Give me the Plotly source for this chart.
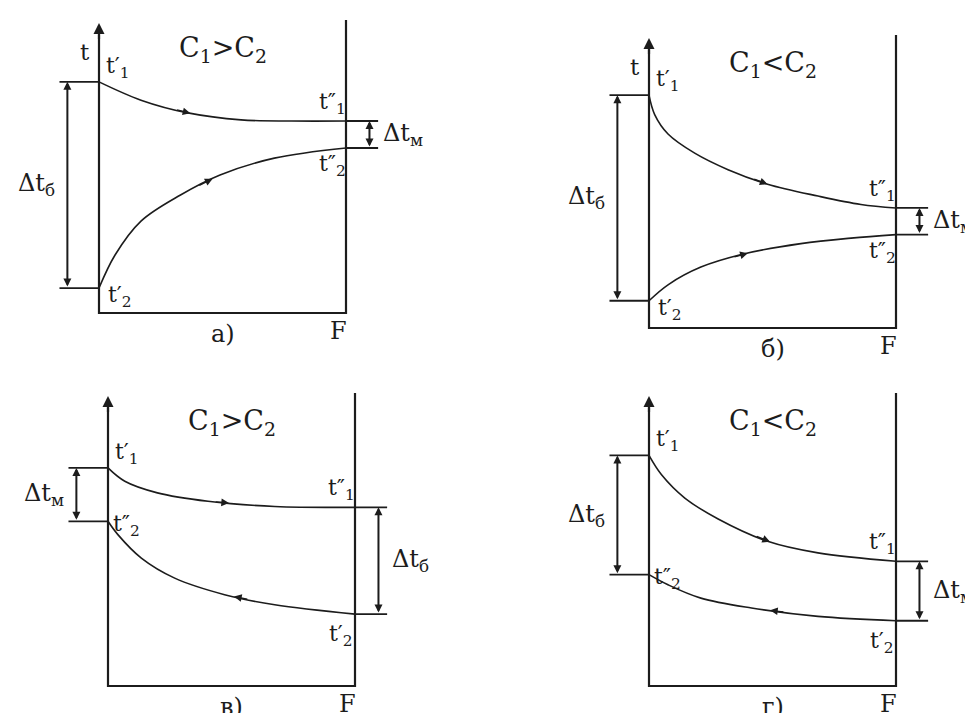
import numpy as np
import plotly.graph_objects as go

# values: F from 0 to 1 (box width), t from 0 to 100 (axis arrow tip)

# а) parallel flow, C1 > C2
A_F1 = [0, 0.17, 0.36, 0.575, 0.78, 1.0]
A_T1 = [79.7, 73.4, 69.0, 66.6, 66.2, 66.2]
A_F2 = [0, 0.065, 0.17, 0.33, 0.49, 0.71, 1.0]
A_T2 = [8.6, 20.0, 31.7, 40.7, 47.6, 53.4, 56.9]

# б) parallel flow, C1 < C2
B_F1 = [0, 0.023, 0.077, 0.185, 0.32, 0.48, 0.684, 0.858, 1.0]
B_T1 = [80.3, 73.6, 66.9, 60.3, 54.6, 49.6, 45.5, 42.6, 41.4]
B_F2 = [0, 0.077, 0.21, 0.387, 0.615, 0.818, 1.0]
B_T2 = [9.4, 14.9, 21.0, 25.6, 29.1, 31.0, 32.2]

# в) counter flow, C1 > C2
V_F1 = [0, 0.068, 0.2, 0.405, 0.675, 1.0]
V_T1 = [75.2, 70.6, 66.6, 63.7, 61.9, 61.6]
V_F2 = [0, 0.04, 0.135, 0.27, 0.472, 0.675, 1.0]
V_T2 = [56.8, 52.2, 44.1, 37.2, 31.5, 28.0, 24.8]

# г) counter flow, C1 < C2
G_F1 = [0, 0.05, 0.145, 0.28, 0.48, 0.684, 1.0]
G_T1 = [79.5, 72.9, 64.8, 57.6, 49.9, 45.9, 43.0]
G_F2 = [0, 0.077, 0.21, 0.415, 0.684, 1.0]
G_T2 = [38.4, 34.9, 30.3, 26.9, 24.0, 22.5]

W, H = 973, 713
SX, SY = 247.0, 2.9  # px per F unit, px per t unit
INK = "#1c1c1c"
SERIF = "DejaVu Serif"

panels = [
    dict(f1=A_F1, t1=A_T1, f2=A_F2, t2=A_T2, dir2=1, o=(91, 305), q=(0, 486, 0, 356),
         title="C<sub>1</sub>&gt;C<sub>2</sub>", letter="а)", counter=False,
         arrows=(0.37, 0.46), tlabel=True, top=100),
    dict(f1=B_F1, t1=B_T1, f2=B_F2, t2=B_T2, dir2=1, o=(641, 320), q=(486, 973, 0, 356),
         title="C<sub>1</sub>&lt;C<sub>2</sub>", letter="б)", counter=False,
         arrows=(0.48, 0.40), tlabel=True, top=100),
    dict(f1=V_F1, t1=V_T1, f2=V_F2, t2=V_T2, dir2=-1, o=(100, 678), q=(0, 486, 356, 713),
         title="C<sub>1</sub>&gt;C<sub>2</sub>", letter="в)", counter=True,
         arrows=(0.49, 0.51), tlabel=False, top=100),
    dict(f1=G_F1, t1=G_T1, f2=G_F2, t2=G_T2, dir2=-1, o=(641, 678), q=(486, 973, 356, 713),
         title="C<sub>1</sub>&lt;C<sub>2</sub>", letter="г)", counter=True,
         arrows=(0.49, 0.49), tlabel=False, top=100),
]

fig = go.Figure()
ann = []


def label(text, x, y, xr, yr, size=22, anchor="center"):
    ann.append(dict(text=text, x=x, y=y, xref=xr, yref=yr, showarrow=False,
                    xanchor=anchor, yanchor="middle",
                    font=dict(family=SERIF, size=size, color=INK)))


def arrow(x, y, ax, ay, xr, yr, both=False, width=1.6, size=1.0):
    ann.append(dict(text="", x=x, y=y, ax=ax, ay=ay, xref=xr, yref=yr,
                    axref=xr, ayref=yr, showarrow=True, arrowhead=2,
                    arrowsize=size, arrowwidth=width, arrowcolor=INK,
                    arrowside="end+start" if both else "end", standoff=0,
                    startstandoff=0))


for i, p in enumerate(panels, start=1):
    sfx = "" if i == 1 else str(i)
    xr, yr = "x" + sfx, "y" + sfx
    ox, oy = p["o"]
    qx0, qx1, qy0, qy1 = p["q"]
    fig.layout["xaxis" + sfx] = dict(
        domain=[qx0 / W, qx1 / W], range=[(qx0 - ox) / SX, (qx1 - ox) / SX],
        visible=False, fixedrange=True, anchor=yr)
    fig.layout["yaxis" + sfx] = dict(
        domain=[1 - qy1 / H, 1 - qy0 / H], range=[(oy - qy1) / SY, (oy - qy0) / SY],
        visible=False, fixedrange=True, anchor=xr)

    # frame: t axis, F axis and right wall
    fig.add_trace(go.Scatter(x=[0, 0, 1, 1], y=[p["top"] - 4, 0, 0, p["top"] + 1],
                             mode="lines", line=dict(color=INK, width=2.2),
                             hoverinfo="skip", showlegend=False, xaxis=xr, yaxis=yr))
    arrow(0, p["top"], 0, p["top"] - 6, xr, yr, width=2.2, size=1.0)

    # temperature curves
    for f, t in ((p["f1"], p["t1"]), (p["f2"], p["t2"])):
        fig.add_trace(go.Scatter(x=f, y=t, mode="lines", line_shape="spline",
                                 line=dict(color=INK, width=1.6), hoverinfo="skip",
                                 showlegend=False, xaxis=xr, yaxis=yr))
    # flow direction arrows
    a1, a2 = p["arrows"]
    arrow(a1, np.interp(a1, p["f1"], p["t1"]), a1 - 0.06,
          np.interp(a1 - 0.06, p["f1"], p["t1"]), xr, yr, width=1.4, size=1.1)
    d = p["dir2"]
    arrow(a2, np.interp(a2, p["f2"], p["t2"]), a2 - 0.06 * d,
          np.interp(a2 - 0.06 * d, p["f2"], p["t2"]), xr, yr, width=1.4, size=1.1)

    t1_in, t1_out = p["t1"][0], p["t1"][-1]
    t2_left, t2_right = p["t2"][0], p["t2"][-1]

    # left difference (at F=0)
    for tv in (t1_in, t2_left):
        fig.add_trace(go.Scatter(x=[-0.16, 0], y=[tv, tv], mode="lines",
                                 line=dict(color=INK, width=1.8), hoverinfo="skip",
                                 showlegend=False, xaxis=xr, yaxis=yr))
    arrow(-0.128, t1_in, -0.128, t2_left, xr, yr, both=True, width=2.0, size=0.8)
    # right difference (at F=1)
    for tv in (t1_out, t2_right):
        fig.add_trace(go.Scatter(x=[1, 1.13], y=[tv, tv], mode="lines",
                                 line=dict(color=INK, width=1.8), hoverinfo="skip",
                                 showlegend=False, xaxis=xr, yaxis=yr))
    arrow(1.095, t1_out, 1.095, t2_right, xr, yr, both=True, width=2.0, size=0.8)

    # texts
    label(p["title"], 0.5, 91, xr, yr, size=27)
    if p["tlabel"]:
        label("t", -0.055, 90, xr, yr, size=23)
    label("t′<sub>1</sub>", 0.075, t1_in + 5, xr, yr)
    label("t″<sub>1</sub>", 0.945, t1_out + 6, xr, yr)
    if p["counter"]:
        label("t″<sub>2</sub>", 0.075, t2_left - 1.5, xr, yr)
        label("t′<sub>2</sub>", 0.945, t2_right - 7.5, xr, yr)
        left_d, right_d = ("Δt<sub>м</sub>", "Δt<sub>б</sub>") if i == 3 else \
            ("Δt<sub>б</sub>", "Δt<sub>м</sub>")
    else:
        label("t′<sub>2</sub>", 0.085, t2_left - 3, xr, yr)
        label("t″<sub>2</sub>", 0.945, t2_right - 6, xr, yr)
        left_d, right_d = "Δt<sub>б</sub>", "Δt<sub>м</sub>"
    label(left_d, -0.17, (t1_in + t2_left) / 2, xr, yr, size=24, anchor="right")
    label(right_d, 1.14, (t1_out + t2_right) / 2, xr, yr, size=24, anchor="left")
    label(p["letter"], 0.5, -7.3, xr, yr, size=24)
    label("F", 0.97, -6.3, xr, yr, size=24)

fig.update_layout(width=W, height=H, margin=dict(l=0, r=0, t=0, b=0),
                  paper_bgcolor="white", plot_bgcolor="white",
                  font=dict(family=SERIF),
                  annotations=ann, showlegend=False)
fig.write_html("out.html")
